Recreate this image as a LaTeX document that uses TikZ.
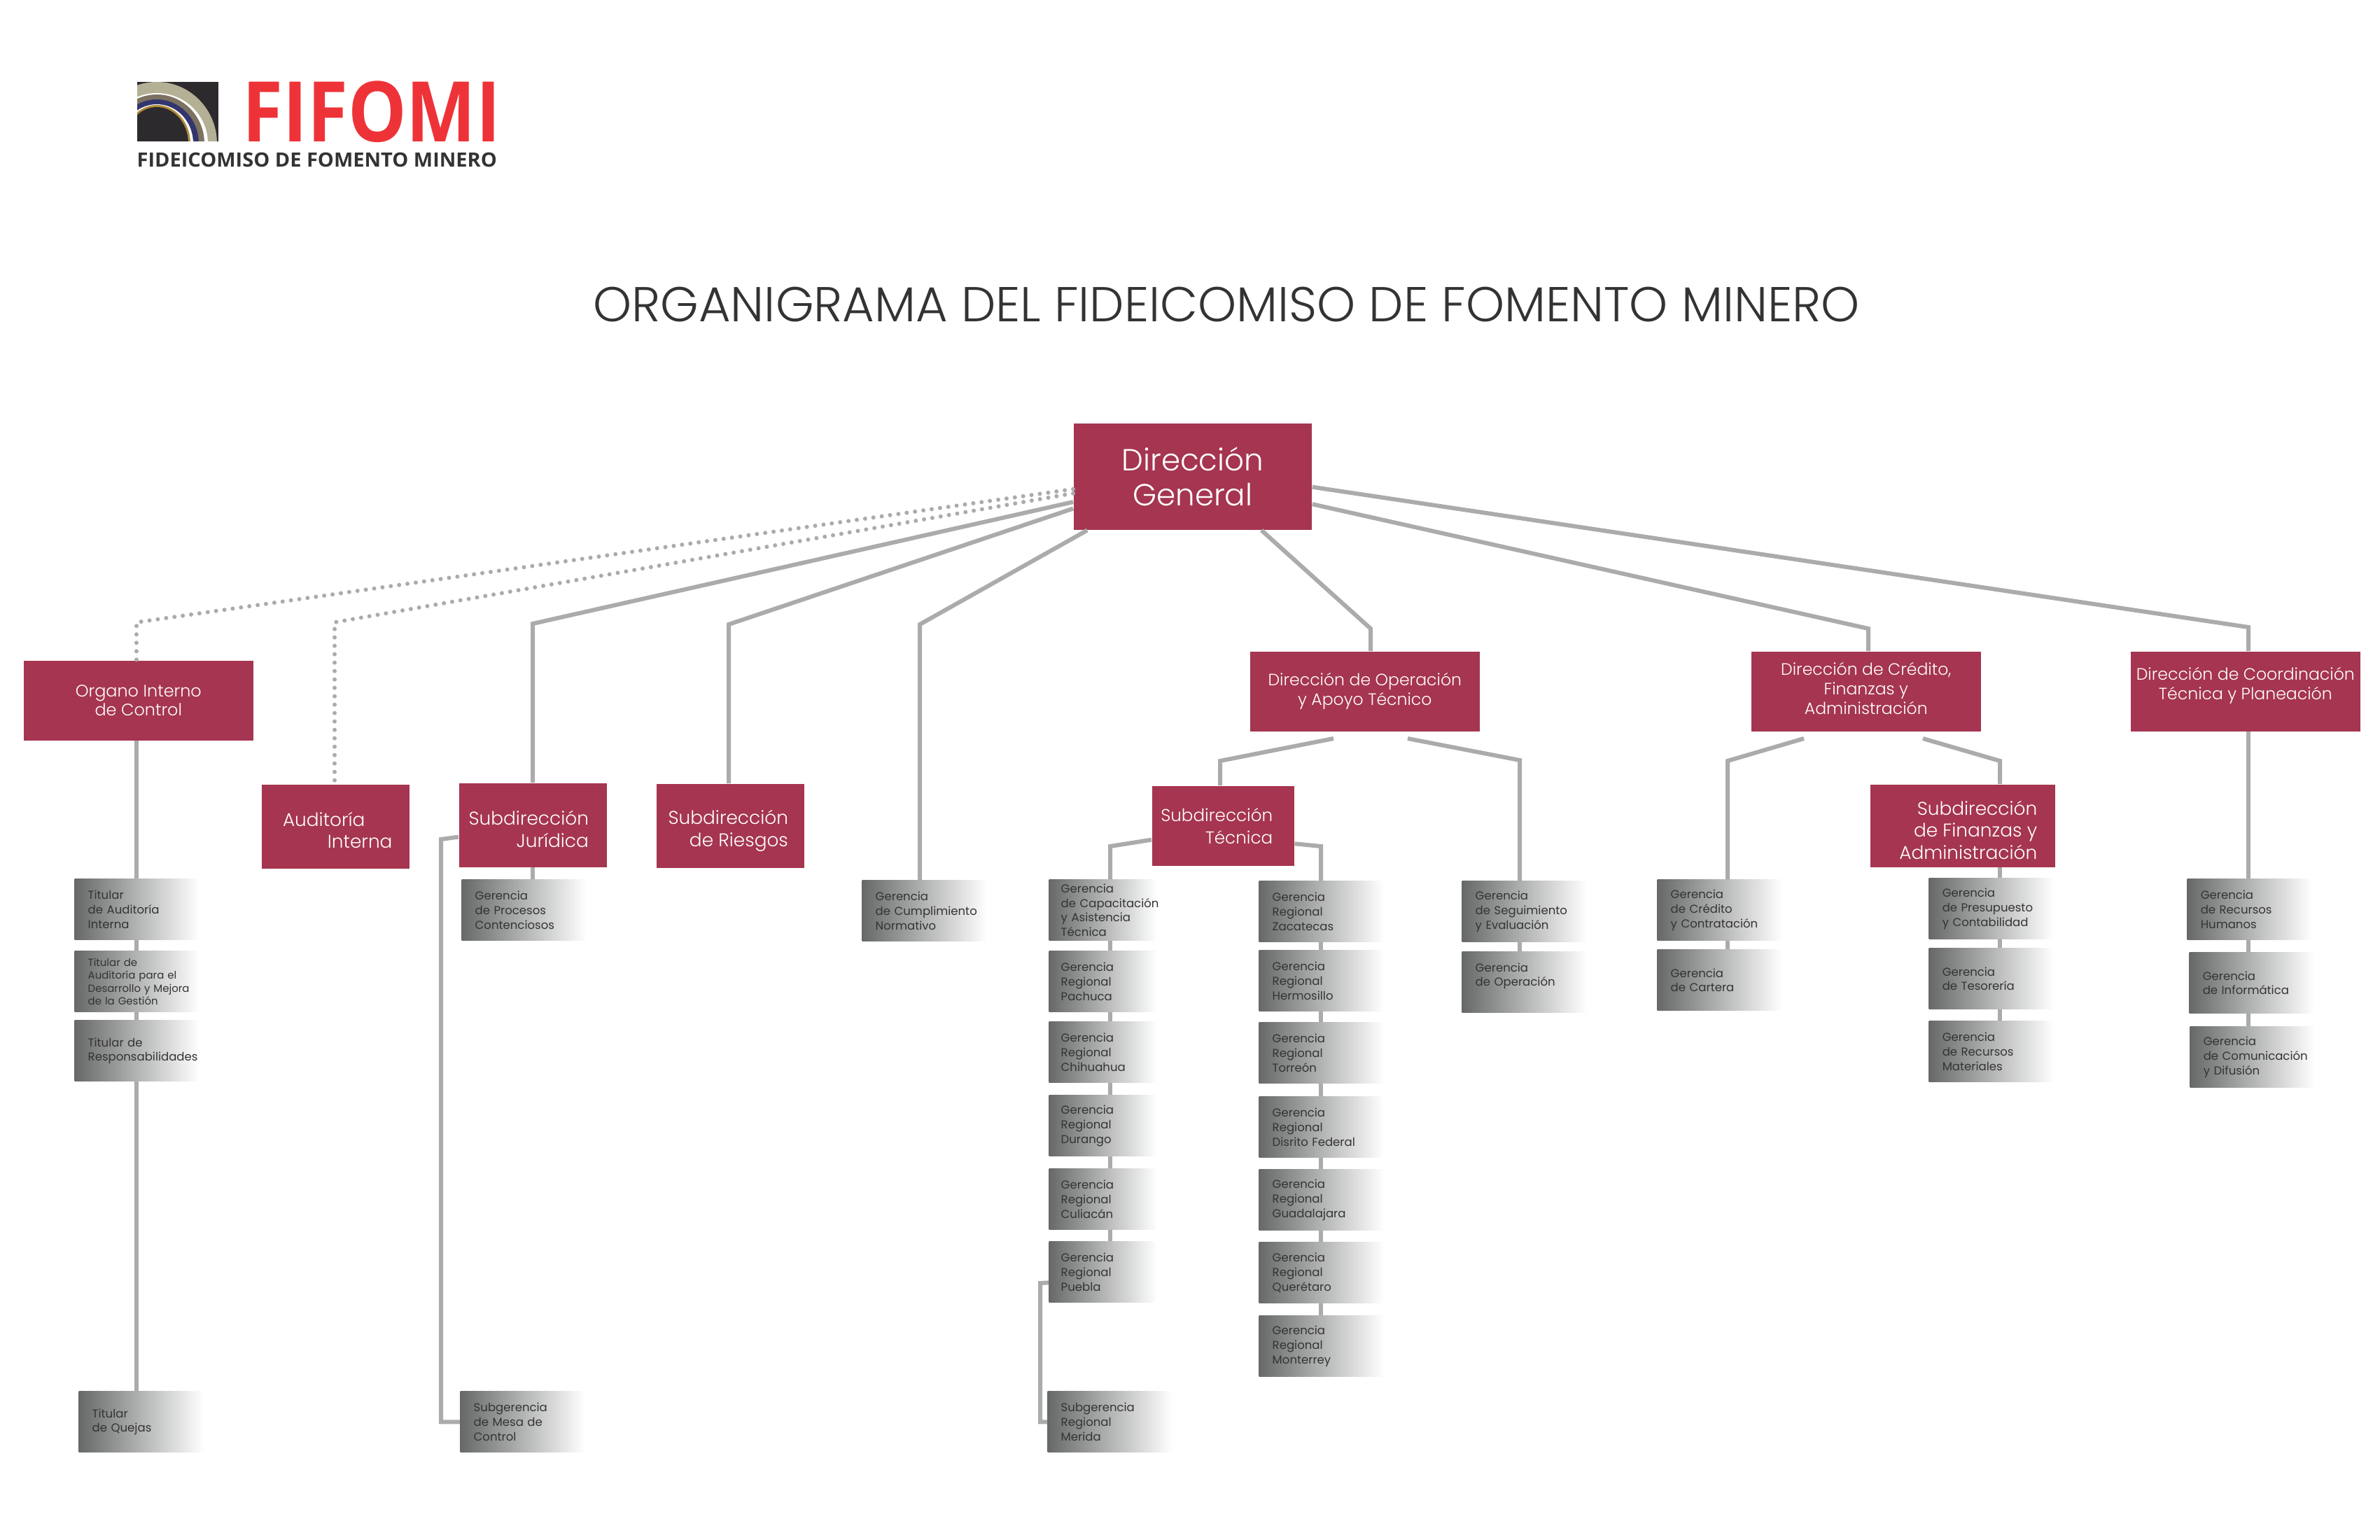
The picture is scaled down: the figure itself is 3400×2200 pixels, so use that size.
\documentclass[tikz,border=0pt]{standalone}
\usepackage{fontspec}
\usepackage{graphicx}
\setmainfont{Poppins Light}
\newfontfamily\logofont{Open Sans}
\newfontfamily\boxfont{Poppins}
\hyphenpenalty=10000
\exhyphenpenalty=10000
\definecolor{fifomired}{HTML}{A53550}
\definecolor{logored}{HTML}{EE3338}
\definecolor{logodark}{HTML}{2D2A2E}
\definecolor{logokhaki}{HTML}{B4B096}
\definecolor{logobrown}{HTML}{7D7260}
\definecolor{logoblue}{HTML}{33366E}
\definecolor{logogold}{HTML}{B08A3C}
\definecolor{linegray}{HTML}{ABABAB}
\definecolor{boxdark}{HTML}{666968}
\definecolor{boxmid}{HTML}{C6C8C8}
\definecolor{textdark}{HTML}{333333}

\begin{document}
\begin{tikzpicture}[
    x=0.01cm,
    y=-0.01cm,
    every node/.style={inner sep=0pt},
    redbox/.style={
        rectangle,
        anchor=north west,
        fill=fifomired,
        text=white,
        align=center,
        font=\fontsize{6.7}{8}\selectfont,
        minimum width=3.28cm,
        minimum height=1.14cm
    },
    subbox/.style={
        redbox,
        align=right,
        font=\fontsize{7.5}{9}\selectfont,
        minimum width=2.11cm,
        minimum height=1.2cm
    },
    grbox/.style={
        rectangle,
        anchor=north west,
        left color=boxdark,
        middle color=boxmid,
        right color=white,
        text=textdark,
        align=left,
        font=\boxfont\fontsize{4.7}{5.9}\selectfont,
        inner xsep=0.19cm,
        inner ysep=0pt,
        text width=1.4cm,
        minimum height=0.87cm
    },
    grnarrow/.style={grbox, inner xsep=0.17cm, text width=1.2cm},
    link/.style={draw=linegray, line width=0.06cm},
    dotlink/.style={draw=linegray, line width=0.06cm, line cap=round, dash pattern=on 0pt off 0.12cm}
]
    \useasboundingbox (0,0) rectangle (3400,2200);

    % Logo
    \begin{scope}
        \clip (196,117) rectangle (312,202);
        \fill[logodark] (196,117) rectangle (312,202);
        \fill[logokhaki] (224,205) ellipse (86 and 88);
        \fill[white] (224,205) ellipse (73 and 72);
        \fill[logobrown] (224,205) ellipse (68 and 70);
        \fill[logoblue] (224,205) ellipse (60 and 63);
        \fill[white] (224,205) ellipse (52 and 56);
        \fill[logogold] (224,205) ellipse (48 and 55);
        \fill[logodark] (224,205) ellipse (45 and 52);
    \end{scope}
    \node[anchor=west, text=logored, font=\logofont\bfseries\fontsize{34}{34}\selectfont] (logoname) at (346,160) {\scalebox{0.88}[1]{FIFOMI}};
    \node[anchor=west, text=textdark, font=\logofont\bfseries\fontsize{8}{8}\selectfont] (logosub) at (195,228) {\scalebox{1.03}[1]{FIDEICOMISO DE FOMENTO MINERO}};

    % Title
    \node[text=textdark, font=\fontsize{19.9}{24}\selectfont] (title) at (1752,435) {ORGANIGRAMA DEL FIDEICOMISO DE FOMENTO MINERO};

    % === RED BOXES ===
    \node[redbox, minimum width=3.4cm, minimum height=1.52cm, font=\fontsize{12.4}{14.2}\selectfont] (dg) at (1533,604) {Dirección\\General};
    \node[redbox, font=\fontsize{6.8}{7.8}\selectfont] (oic) at (33,943) {Organo Interno\\de Control};
    \node[subbox] (aud) at (373,1120) {\rule{0pt}{8.8pt}Auditoría\hspace*{0.33cm}\\Interna\hspace*{-0.06cm}};
    \node[subbox] (jur) at (655,1118) {\rule{0pt}{9.2pt}Subdirección\hspace*{0.12cm}\\Jurídica\hspace*{0.12cm}};
    \node[subbox] (rie) at (937,1119) {\rule{0pt}{10pt}Subdirección\hspace*{0.06cm}\\de Riesgos\hspace*{0.06cm}};
    \node[redbox] (dop) at (1785,930) {Dirección de Operación\\y Apoyo Técnico};
    \node[redbox] (dcr) at (2501,930) {Dirección de Crédito,\\Finanzas y\\Administración\\[-0.2cm]};
    \node[redbox] (dco) at (3043,930) {Dirección de Coordinación\\Técnica y Planeación\\[-0.06cm]};
    \node[subbox, font=\fontsize{7}{9}\selectfont, minimum width=2.03cm, minimum height=1.14cm] (stc) at (1645,1122) {Subdirección\hspace*{0.18cm}\\Técnica\hspace*{0.18cm}};
    \node[subbox, minimum width=2.64cm, minimum height=1.18cm] (sfi) at (2671,1120) {\rule{0pt}{9.2pt}\mbox{Subdirección\hspace{-0.16cm}}\\\mbox{de Finanzas y\hspace{-0.16cm}}\\\mbox{Administración\hspace{-0.16cm}}};

    % === GRADIENT BOXES ===
    % Organo Interno
    \node[grbox] (tai) at (106,1255) {Titular\\de Auditoría\\Interna};
    \node[grbox, font=\boxfont\fontsize{4.25}{5.2}\selectfont] (tad) at (106,1358) {Titular de\\Auditoría para el\\\mbox{Desarrollo y Mejora}\\de la Gestión};
    \node[grbox] (tre) at (106,1457) {Titular de\\Responsabilidades};
    \node[grbox] (tqu) at (112,1987) {Titular\\de Quejas};

    % Juridica
    \node[grbox] (gpc) at (659,1256) {Gerencia\\de Procesos\\Contenciosos};
    \node[grbox] (smc) at (657,1987) {Subgerencia\\de Mesa de\\Control};

    % Cumplimiento
    \node[grbox] (gcn) at (1231,1257) {Gerencia\\\mbox{de Cumplimiento}\\Normativo};

    % Subdireccion Tecnica, left column
    \node[grnarrow] (gca) at (1498,1256) {Gerencia\\\mbox{de Capacitación}\\y Asistencia\\Técnica};
    \node[grnarrow] (gpa) at (1498,1358) {Gerencia\\Regional\\Pachuca};
    \node[grnarrow] (gch) at (1498,1459) {Gerencia\\Regional\\Chihuahua};
    \node[grnarrow] (gdu) at (1498,1564) {Gerencia\\Regional\\Durango};
    \node[grnarrow] (gcu) at (1498,1669) {Gerencia\\Regional\\Culiacán};
    \node[grnarrow] (gpu) at (1498,1773) {Gerencia\\Regional\\Puebla};
    \node[grbox] (sme) at (1496,1987) {Subgerencia\\Regional\\Merida};

    % Subdireccion Tecnica, right column
    \node[grbox] (gza) at (1798,1258) {Gerencia\\Regional\\Zacatecas};
    \node[grbox] (ghe) at (1798,1357) {Gerencia\\Regional\\Hermosillo};
    \node[grbox] (gto) at (1798,1460) {Gerencia\\Regional\\Torreón};
    \node[grbox] (gdf) at (1798,1566) {Gerencia\\Regional\\Disrito Federal};
    \node[grbox] (ggu) at (1798,1670) {Gerencia\\Regional\\Guadalajara};
    \node[grbox] (gqu) at (1798,1774) {Gerencia\\Regional\\Querétaro};
    \node[grbox] (gmo) at (1798,1879) {Gerencia\\Regional\\Monterrey};

    % Direccion de Operacion
    \node[grbox] (gse) at (2088,1258) {Gerencia\\de Seguimiento\\y Evaluación};
    \node[grbox] (gop) at (2088,1359) {Gerencia\\de Operación\par\vspace{0.18cm}};

    % Direccion de Credito
    \node[grbox] (gcr) at (2367,1256) {Gerencia\\de Crédito\\y Contratación};
    \node[grbox] (gct) at (2367,1356) {Gerencia\\de Cartera};
    \node[grbox] (gpr) at (2755,1254) {Gerencia\\de Presupuesto\\y Contabilidad};
    \node[grbox] (gte) at (2755,1354) {Gerencia\\de Tesorería};
    \node[grbox] (gma) at (2755,1458) {Gerencia\\de Recursos\\Materiales};

    % Direccion de Coordinacion
    \node[grbox] (grh) at (3124,1255) {Gerencia\\de Recursos\\Humanos};
    \node[grbox] (gin) at (3127,1360) {Gerencia\\de Informática};
    \node[grbox] (gco) at (3128,1466) {Gerencia\\\mbox{de Comunicación}\\y Difusión};

    % === KNEES ===
    \coordinate (kneeoic) at (195,889);
    \coordinate (kneeaud) at (478,889);
    \coordinate (kneejur) at (761,891);
    \coordinate (kneerie) at (1041,892);
    \coordinate (kneecum) at (1314,892);
    \coordinate (kneedop) at (1958,898);
    \coordinate (kneedcr) at (2669,898);
    \coordinate (kneedco) at (3212,896);
    \coordinate (kneesub) at (630,1199);
    \coordinate (kneestc) at (1743,1087);
    \coordinate (kneeope) at (2171,1086);
    \coordinate (kneegcr) at (2468,1087);
    \coordinate (kneesfi) at (2857,1087);
    \coordinate (kneeleft) at (1586,1209);
    \coordinate (kneeright) at (1887,1209);
    \coordinate (kneepue) at (1486,1833);
    \coordinate (stubstc) at (1905,1055);
    \coordinate (stubope) at (2011,1055);
    \coordinate (stubgcr) at (2577,1055);
    \coordinate (stubsfi) at (2747,1055);

    % === LINKS FROM DIRECCION GENERAL ===
    \draw[dotlink] (dg.186) -- (kneeoic) -- (kneeoic |- oic.north);
    \draw[dotlink] (dg.188.4) -- (kneeaud) -- (kneeaud |- aud.north);
    \draw[link] (dg.192.6) -- (kneejur) -- (kneejur |- jur.north);
    \draw[link] (dg.195.5) -- (kneerie) -- (kneerie |- rie.north);
    \draw[link] (dg.207.5) -- (kneecum) -- (kneecum |- gcn.north);
    \draw[link] (dg.322.8) -- (kneedop) -- (kneedop |- dop.north);
    \draw[link] (dg.347.7) -- (kneedcr) -- (kneedcr |- dcr.north);
    \draw[link] (dg.355.6) -- (kneedco) -- (kneedco |- dco.north);

    % === LINKS DOWN THE COLUMNS ===
    \foreach \upper/\lower in {oic/tai, tai/tad, tad/tre, tre/tqu}
        \draw[link] (kneeoic |- \upper.south) -- (kneeoic |- \lower.north);
    \draw[link] (kneejur |- jur.south) -- (kneejur |- gpc.north);
    \draw[link] (jur.189.2) -- (kneesub) -- (kneesub |- smc.west) -- (smc.west);

    % Subdireccion Tecnica
    \draw[link] (stubstc) -- (kneestc) -- (kneestc |- stc.north);
    \draw[link] (stc.191) -- (kneeleft) -- (kneeleft |- gca.north);
    \draw[link] (stc.346.7) -- (kneeright) -- (kneeright |- gza.north);
    \foreach \upper/\lower in {gca/gpa, gpa/gch, gch/gdu, gdu/gcu, gcu/gpu}
        \draw[link] (kneeleft |- \upper.south) -- (kneeleft |- \lower.north);
    \foreach \upper/\lower in {gza/ghe, ghe/gto, gto/gdf, gdf/ggu, ggu/gqu, gqu/gmo}
        \draw[link] (kneeright |- \upper.south) -- (kneeright |- \lower.north);
    \draw[link] (gpu.191) -- (kneepue) -- (kneepue |- sme.west) -- (sme.west);

    % Direccion de Operacion
    \draw[link] (stubope) -- (kneeope) -- (kneeope |- gse.north);
    \draw[link] (kneeope |- gse.south) -- (kneeope |- gop.north);

    % Direccion de Credito
    \draw[link] (stubgcr) -- (kneegcr) -- (kneegcr |- gcr.north);
    \draw[link] (kneegcr |- gcr.south) -- (kneegcr |- gct.north);
    \draw[link] (stubsfi) -- (kneesfi) -- (kneesfi |- sfi.north);
    \foreach \upper/\lower in {sfi/gpr, gpr/gte, gte/gma}
        \draw[link] (kneesfi |- \upper.south) -- (kneesfi |- \lower.north);

    % Direccion de Coordinacion
    \foreach \upper/\lower in {dco/grh, grh/gin, gin/gco}
        \draw[link] (kneedco |- \upper.south) -- (kneedco |- \lower.north);
\end{tikzpicture}
\end{document}
